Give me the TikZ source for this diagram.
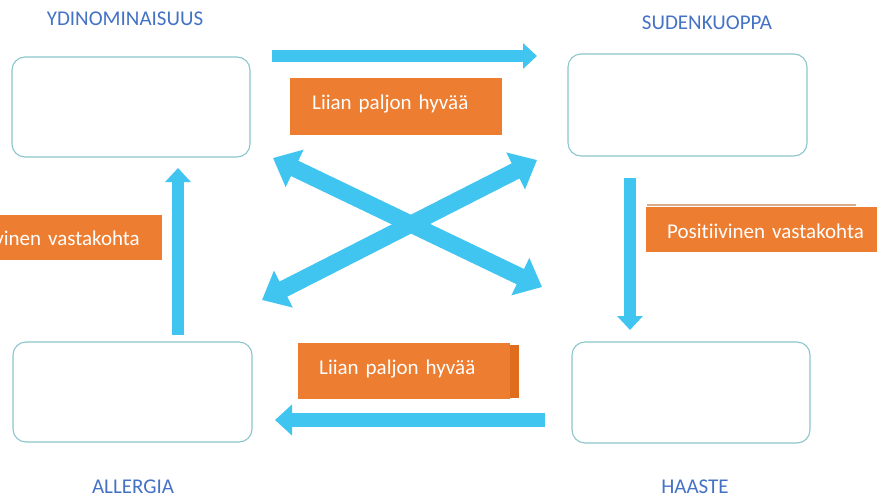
\documentclass[tikz,border=0pt]{standalone}
\usepackage{fontspec}
\setmainfont{Carlito}[Ligatures=NoCommon]
\usetikzlibrary{arrows.meta}
\definecolor{arrowblue}{RGB}{64,197,241}
\definecolor{orangebox}{RGB}{237,125,49}
\definecolor{labelblue}{RGB}{68,114,196}
\definecolor{boxline}{RGB}{140,198,204}
\definecolor{oshadow}{RGB}{224,108,30}
\definecolor{tanline}{RGB}{215,172,135}
\begin{document}
\begin{tikzpicture}[x=1pt,y=-1pt,
  card/.style={draw=boxline, line width=1.1pt, rounded corners=13pt, fill=white},
  tag/.style={fill=orangebox, text=white, font=\fontsize{21}{25}\selectfont, inner ysep=0pt},
  lbl/.style={text=labelblue, font=\fontsize{21}{25}\selectfont, anchor=base, inner sep=0pt},
  flow/.style={draw=arrowblue, line width=12pt, -{Triangle[length=14pt,width=25pt]}},
  cross/.style={draw=arrowblue, line width=17pt, {Triangle[length=24pt,width=40pt]}-{Triangle[length=24pt,width=40pt]}}]
\useasboundingbox (0,0) rectangle (877,498);
\clip (0,0) rectangle (877,498);

% boxes
\node[card, minimum width=238pt, minimum height=100pt] (yd) at (131,107) {};
\node[card, minimum width=239pt, minimum height=102pt] (su) at (687.5,105) {};
\node[card, minimum width=239pt, minimum height=100pt] (al) at (132.5,392) {};
\node[card, minimum width=238pt, minimum height=101pt] (ha) at (691,392.5) {};

% labels
\node[lbl] (ydl) at (125,25) {YDINOMINAISUUS};
\node[lbl] (sul) at (707,29) {SUDENKUOPPA};
\node[lbl] (all) at (133,493) {ALLERGIA};
\node[lbl] (hal) at (695,493) {HAASTE};

% arrow end points
\coordinate (ta) at (272,56);  \coordinate (tb) at (537,56);
\coordinate (la) at (178,335); \coordinate (lb) at (178,168);
\coordinate (ra) at (630,178); \coordinate (rb) at (630,330);
\coordinate (ba) at (545,420); \coordinate (bb) at (275,420);
\coordinate (xa) at (273,158); \coordinate (xb) at (542,287);
\coordinate (xc) at (262,300); \coordinate (xd) at (537,160);

\draw[flow] (ta) -- (tb);
\draw[flow] (la) -- (lb);
\draw[flow] (ra) -- (rb);
\draw[flow, line width=14pt, -{Triangle[length=17pt,width=30pt]}] (ba) -- (bb);
\draw[cross] (xa) -- (xb);
\draw[cross] (xc) -- (xd);

% orange tags
\node[tag, anchor=base west, text width=168pt, inner xsep=22pt, text height=31pt, text depth=26pt, align=left] (h1) at (290,109) {Liian paljon hyvää};
\fill[oshadow] ([yshift=-2pt]298,343) rectangle (519,398);
\node[tag, anchor=base west, text width=170pt, inner xsep=21pt, text height=31pt, text depth=25pt, align=left] (h2) at (298,374) {Liian paljon hyvää};
\draw[tanline, line width=1.2pt] (647,205) -- (856,205);
\node[tag, anchor=base west, text width=210pt, inner xsep=21pt, text height=31pt, text depth=14pt, align=left] (p1) at (646,238) {Positiivinen vastakohta};
\node[tag, anchor=base east, text width=210pt, inner xsep=22pt, text height=30pt, text depth=15pt, align=right] (p2) at (162,245) {Positiivinen vastakohta};
\end{tikzpicture}
\end{document}
